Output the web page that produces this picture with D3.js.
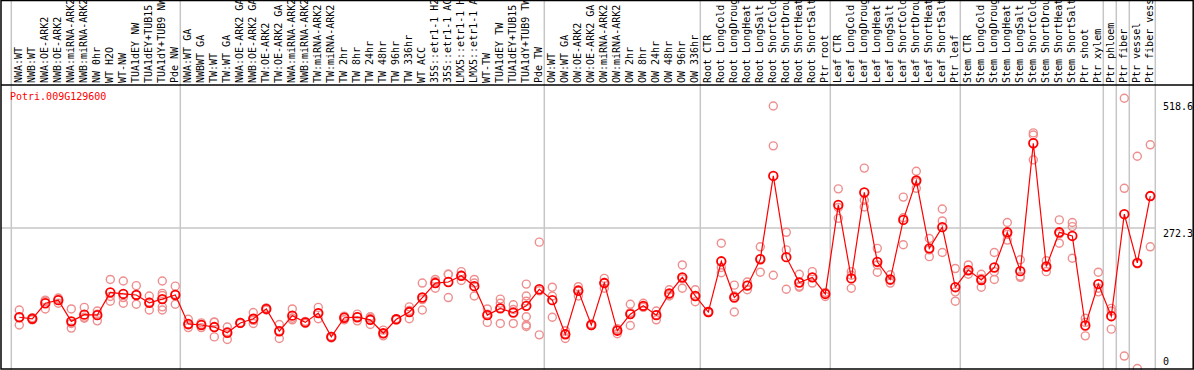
<!DOCTYPE html>
<html>
<head>
<meta charset="utf-8">
<script src="https://cdn.jsdelivr.net/npm/d3@7"></script>
<style>
  body { margin: 0; background: #fff; }
  svg { display: block; }
  text { font-family: "DejaVu Sans Mono", monospace; font-size: 10px; }
</style>
</head>
<body>
<svg id="chart" width="1194" height="370"></svg>
<script>
// sample labels, in plot order (some names repeat)
const categories = [
  'NWA:WT', 'NWB:WT', 'NWA:OE-ARK2', 'NWB:OE-ARK2', 'NWA:miRNA-ARK2', 'NWB:miRNA-ARK2',
  'NW 0hr', 'WT H2O', 'WT-NW', 'TUA1dEY NW', 'TUA1dEY+TUB15 NW', 'TUA1dY+TUB9 NW', 'Pde NW',
  'NWA:WT GA', 'NWBWT GA', 'TW:WT', 'TW:WT GA', 'NWA:OE-ARK2 GA', 'NWB:OE-ARK2 GA',
  'TW:OE-ARK2', 'TW:OE-ARK2 GA', 'NWA:miRNA-ARK2', 'NWB:miRNA-ARK2', 'TW:miRNA-ARK2',
  'TW:miRNA-ARK2', 'TW 2hr', 'TW 8hr', 'TW 24hr', 'TW 48hr', 'TW 96hr', 'TW 336hr',
  'WT ACC', '35S::etr1-1 H2O', '35S::etr1-1 ACC', 'LMX5::etr1-1 H2O', 'LMX5::etr1-1 ACC',
  'WT-TW', 'TUA1dEY TW', 'TUA1dEY+TUB15 TW', 'TUA1dY+TUB9 TW', 'Pde TW',
  'OW:WT', 'OW:WT GA', 'OW:OE-ARK2', 'OW:OE-ARK2 GA', 'OW:miRNA-ARK2', 'OW:miRNA-ARK2',
  'OW 2hr', 'OW 8hr', 'OW 24hr', 'OW 48hr', 'OW 96hr', 'OW 336hr',
  'Root CTR', 'Root LongCold', 'Root LongDrought', 'Root LongHeat', 'Root LongSalt',
  'Root ShortCold', 'Root ShortDrought', 'Root ShortHeat', 'Root ShortSalt', 'Ptr root',
  'Leaf CTR', 'Leaf LongCold', 'Leaf LongDrought', 'Leaf LongHeat', 'Leaf LongSalt',
  'Leaf ShortCold', 'Leaf ShortDrought', 'Leaf ShortHeat', 'Leaf ShortSalt', 'Ptr leaf',
  'Stem CTR', 'Stem LongCold', 'Stem LongDrought', 'Stem LongHeat', 'Stem LongSalt',
  'Stem ShortCold', 'Stem ShortDrought', 'Stem ShortHeat', 'Stem ShortSalt',
  'Ptr shoot', 'Ptr xylem', 'Ptr phloem', 'Ptr fiber', 'Ptr vessel', 'Ptr fiber vessel'
];

// index of the first sample of each block (a grey separator goes before it)
const groupStarts = [0, 13, 41, 53, 63, 73, 84, 85, 86];

// mean expression per sample
const means = [
  100, 97, 127, 133, 92, 105, 104, 148, 145, 143, 128, 135, 143,
  87, 85, 81, 70, 89, 97, 116, 73, 103, 90, 108, 62, 99, 100, 95, 69, 96, 110,
  138, 166, 168, 180, 160, 104, 117, 109, 122, 154,
  133, 67, 151, 85, 166, 74, 106, 122, 104, 146, 177, 141,
  110, 208, 138, 161, 212, 373, 216, 167, 177, 145,
  317, 175, 341, 207, 173, 288, 364, 233, 274, 158,
  191, 172, 196, 264, 189, 436, 198, 264, 257, 84, 164,
  102, 299, 205, 334
];

// replicate values per sample
const replicates = [
  [114, 85, 100], [97, 99, 95], [133, 116, 131], [137, 127, 135], [116, 79, 88],
  [119, 98, 100], [112, 93, 106], [173, 131, 140], [170, 127, 138], [161, 125, 143],
  [141, 114, 129], [170, 146, 142, 120, 114], [160, 125, 144],
  [96, 80, 85], [89, 80, 86], [90, 62, 91], [81, 57, 72], [90, 88, 89], [109, 88, 94],
  [118, 114, 116], [86, 59, 74], [116, 95, 98], [92, 88, 90], [119, 97, 108],
  [63, 60, 63], [102, 95, 100], [106, 93, 101], [101, 86, 98], [75, 64, 68],
  [97, 95, 96], [120, 97, 113], [166, 114, 134], [173, 156, 169], [183, 138, 183],
  [188, 171, 181], [173, 141, 166], [116, 90, 106], [135, 127, 88, 118],
  [124, 88, 115], [164, 141, 101, 85, 82, 131], [245, 66, 151],
  [158, 100, 141], [74, 59, 68], [159, 141, 153], [87, 84, 85], [175, 156, 167],
  [68, 78, 76], [125, 84, 109], [127, 119, 121], [112, 95, 105], [153, 141, 144],
  [201, 156, 174], [153, 130, 140],
  [111, 109, 110], [243, 186, 196], [162, 110, 141], [168, 153, 162], [236, 187, 213],
  [508, 431, 181], [264, 230, 154], [183, 160, 158], [188, 166, 177], [140, 148, 147],
  [348, 291, 312], [188, 156, 181], [388, 326, 313], [233, 187, 201], [182, 166, 171],
  [332, 240, 292], [382, 349, 361], [252, 217, 230], [309, 286, 225], [194, 131, 149],
  [201, 183, 189], [183, 158, 175], [225, 188, 173], [283, 249, 260], [211, 177, 179],
  [456, 452, 404], [209, 188, 197], [288, 243, 261], [283, 275, 214], [98, 64, 90],
  [187, 149, 156], [117, 77, 112], [523, 349, 25], [411, 1, 203], [433, 236, 334]
];

const yTicks = [0, 272.3, 518.6];
const geneName = 'Potri.009G129600';

const W = 1194, H = 370;
const headerBottom = 85;
const svg = d3.select('#chart');

// names repeat, so the point scale runs on indices
const x = d3.scalePoint().domain(d3.range(categories.length)).range([19.3, 1150.3]);
const y = d3.scaleLinear().domain([0, 518.6]).range([369, 100.5]);
const plotRight = x(categories.length - 1) + 5;

// grey separators and reference line
const sepX = groupStarts.map(i => x(i) - 8).concat([plotRight]);
svg.append('g').selectAll('line').data(sepX).join('line')
  .attr('x1', d => d).attr('x2', d => d)
  .attr('y1', 0).attr('y2', H)
  .attr('stroke', '#c6c6c6').attr('stroke-width', 1.5);

svg.append('line')
  .attr('x1', 1).attr('x2', plotRight)
  .attr('y1', y(272.3)).attr('y2', y(272.3))
  .attr('stroke', '#c6c6c6').attr('stroke-width', 1.5);

// sample labels, rotated, running off the top like the original
svg.append('g').selectAll('text').data(categories).join('text')
  .attr('transform', (d, i) => `translate(${x(i) + 3},83) rotate(-90)`)
  .attr('fill', '#000')
  .text(d => d);

// replicate points
const reps = [];
replicates.forEach((vals, i) => vals.forEach(v => reps.push({ i, v })));
svg.append('g').selectAll('circle').data(reps).join('circle')
  .attr('cx', d => x(d.i)).attr('cy', d => y(d.v)).attr('r', 4)
  .attr('fill', 'none').attr('stroke', '#ee8e8e').attr('stroke-width', 1.4);

// mean line and points
const line = d3.line().x((d, i) => x(i)).y(d => y(d));
svg.append('path').datum(means)
  .attr('d', line).attr('fill', 'none')
  .attr('stroke', '#ff0000').attr('stroke-width', 1.2);

svg.append('g').selectAll('circle').data(means).join('circle')
  .attr('cx', (d, i) => x(i)).attr('cy', d => y(d)).attr('r', 4.3)
  .attr('fill', 'none').attr('stroke', '#ff0000').attr('stroke-width', 1.8);

// value labels on the right
svg.append('g').selectAll('text').data(yTicks).join('text')
  .attr('x', 1163)
  .attr('y', d => (d === 0 ? y(d) - 4 : y(d) + 9))
  .attr('fill', '#000')
  .text(d => d);

svg.append('text')
  .attr('x', 10).attr('y', 100)
  .attr('fill', '#ff0000')
  .text(geneName);

// frame
svg.append('line')
  .attr('x1', 1).attr('x2', W).attr('y1', headerBottom).attr('y2', headerBottom)
  .attr('stroke', '#000').attr('stroke-width', 1.5);
svg.append('rect')
  .attr('x', 1).attr('y', 0.5).attr('width', W - 1.8).attr('height', H - 1.5)
  .attr('fill', 'none').attr('stroke', '#000').attr('stroke-width', 1.5);
</script>
</body>
</html>
